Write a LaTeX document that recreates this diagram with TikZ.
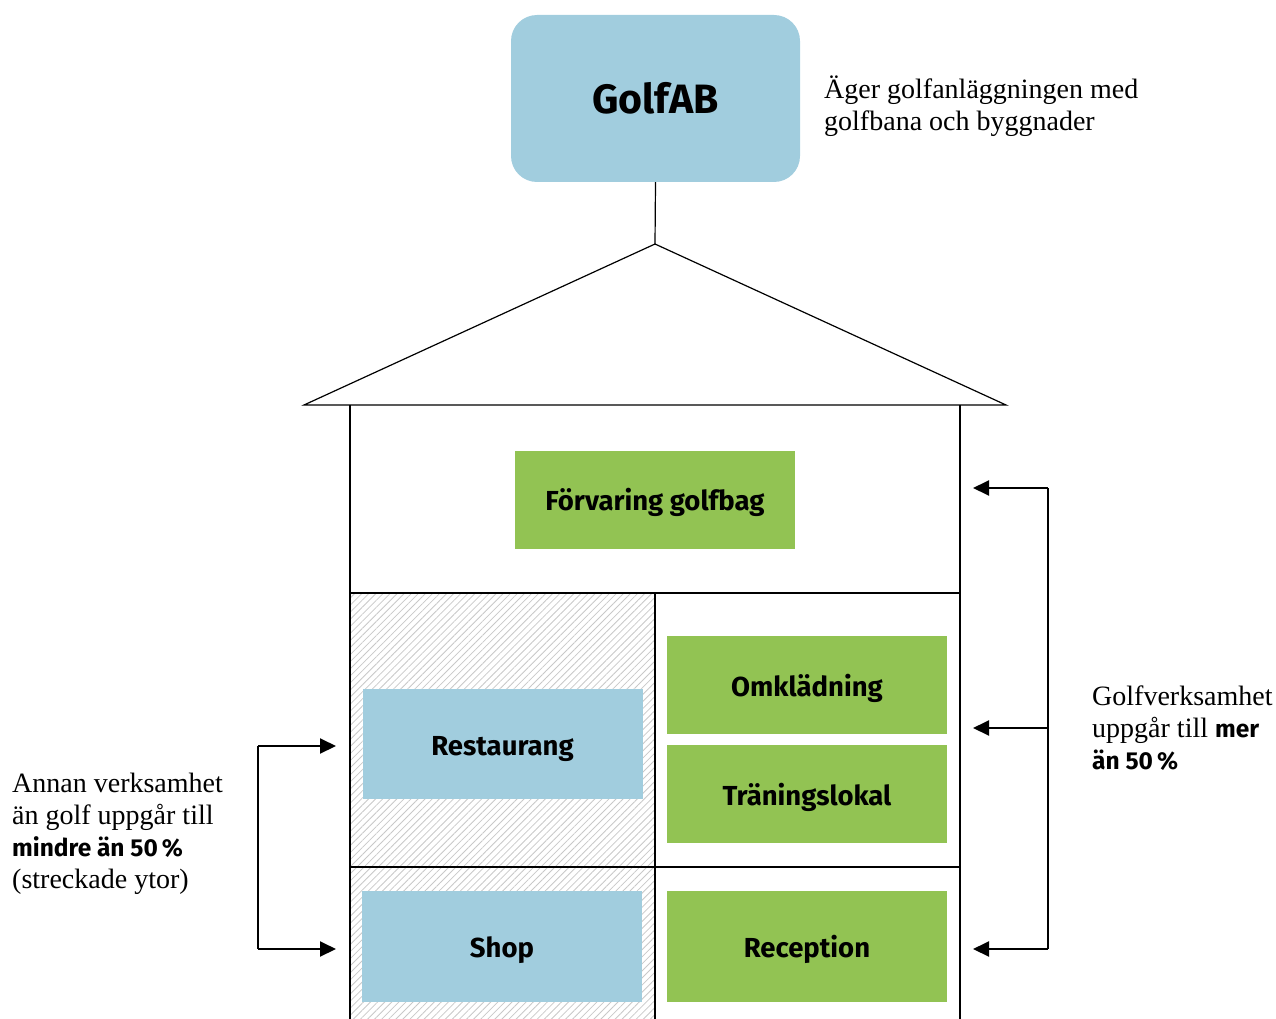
\documentclass[tikz,border=0pt]{standalone}
\usepackage{fontspec}
\setmainfont{Liberation Serif}
\newfontfamily\lab{Fira Sans}
\usetikzlibrary{arrows.meta,patterns.meta}
\definecolor{boxblue}{HTML}{A1CDDE}
\definecolor{boxgreen}{HTML}{92C353}
\definecolor{hatchgray}{HTML}{C8C8C8}
\newcommand{\nb}[1]{{\lab\bfseries\fontsize{24.5}{32}\selectfont #1}}
\begin{document}
\begin{tikzpicture}[x=1pt,y=-1pt,
  labelfont/.style={font=\lab\bfseries\fontsize{27.5}{32}\selectfont, text height=26pt, text depth=4pt},
  bluebox/.style={fill=boxblue, draw=none, labelfont, inner sep=0pt, minimum width=280pt},
  greenbox/.style={fill=boxgreen, draw=none, labelfont, inner sep=0pt, minimum width=280pt},
  wall/.style={line width=1.2pt},
  floorline/.style={line width=2.6pt},
  arr/.style={line width=2pt, -{Triangle[length=16pt,width=15pt]}},
  note/.style={font=\fontsize{28}{32}\selectfont, align=left, anchor=west, inner sep=0pt}]
\useasboundingbox (0,0) rectangle (1276,1019);
% hatched areas
\fill[pattern={Lines[angle=45,distance=5pt,line width=0.8pt]}, pattern color=hatchgray] (350,593) rectangle (655,1019);
% top box
\node[fill=boxblue, rounded corners=26pt, minimum width=289pt, minimum height=167pt, inner sep=0pt,
      font=\lab\bfseries\fontsize{41}{48}\selectfont, text height=35pt, text depth=4pt] (golf) at (655.5,98.5) {GolfAB};
\coordinate (apex) at (655,244);
\coordinate (eaveL) at (304,405);
\coordinate (eaveR) at (1006,405);
\draw[wall] (golf.south) -- (apex);
\draw[wall, line join=miter] (eaveL) -- (apex) -- (eaveR) -- cycle;
% walls
\coordinate (wlt) at (350,405); \coordinate (wlb) at (350,1019);
\coordinate (wrt) at (960,405); \coordinate (wrb) at (960,1019);
\coordinate (mid1) at (655,593); \coordinate (mid2) at (655,1019);
\draw[wall] (wlt) -- (wlb);
\draw[wall] (wrt) -- (wrb);
\draw[wall] (mid1) -- (mid2);
\coordinate (f1l) at (350,593); \coordinate (f1r) at (960,593);
\coordinate (f2l) at (350,867); \coordinate (f2r) at (960,867);
\draw[floorline] (f1l) -- (f1r);
\draw[floorline] (f2l) -- (f2r);
% rooms
\node[greenbox, minimum height=98pt] (forv) at (655,499.5) {Förvaring golfbag};
\node[greenbox, minimum height=98pt] (omkl) at (807,685) {Omklädning};
\node[greenbox, minimum height=98pt] (tran) at (807,794) {Träningslokal};
\node[bluebox, minimum height=110pt] (rest) at (502.5,744) {Restaurang};
\node[bluebox, minimum height=111pt] (shop) at (502,946.5) {Shop};
\node[greenbox, minimum height=111pt] (recp) at (807,946.5) {Reception};
% right arrows
\coordinate (rt) at (1048,488); \coordinate (rm) at (1048,728); \coordinate (rb) at (1048,949);
\coordinate (rta) at (973,488); \coordinate (rma) at (973,728); \coordinate (rba) at (973,949);
\draw[line width=2pt] (rt) -- (rb);
\draw[arr] (rt) -- (rta);
\draw[arr] (rm) -- (rma);
\draw[arr] (rb) -- (rba);
% left arrows
\coordinate (lt) at (258,746); \coordinate (lb) at (258,949);
\coordinate (lta) at (336,746); \coordinate (lba) at (336,949);
\draw[line width=2pt] (lt) -- (lb);
\draw[arr] (lt) -- (lta);
\draw[arr] (lb) -- (lba);
% notes
\node[note] (n1) at (824,106) {Äger golfanläggningen med\\golfbana och byggnader};
\node[note] (n2) at (1092,728) {Golfverksamhet\\uppgår till \nb{mer}\\\nb{än 50\,\%}};
\node[note] (n3) at (12,834) {Annan verksamhet\\än golf uppgår till\\\nb{mindre än 50\,\%}\\(streckade ytor)};
\end{tikzpicture}
\end{document}
